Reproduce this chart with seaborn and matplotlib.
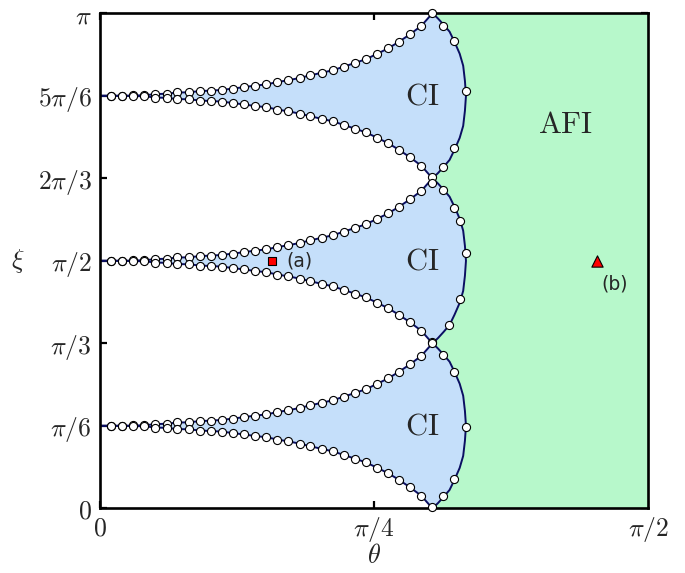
import numpy as np
import pandas as pd
import seaborn as sns
import matplotlib
matplotlib.use("Agg")
import matplotlib.pyplot as plt

# ---------------- data ----------------
# inner boundary of a CI lobe: theta samples and half-width in xi (radians)
theta_inner = [0.000, 0.032, 0.064, 0.095, 0.127, 0.159, 0.191, 0.222, 0.254, 0.286,
               0.318, 0.349, 0.381, 0.413, 0.445, 0.476, 0.508, 0.540, 0.572, 0.603,
               0.635, 0.667, 0.699, 0.730, 0.762, 0.794, 0.826, 0.857, 0.889, 0.921,
               0.953]
half_width = [0.000, 0.000, 0.000, 0.002, 0.003, 0.011, 0.013, 0.021, 0.022, 0.030,
              0.033, 0.037, 0.046, 0.055, 0.065, 0.072, 0.087, 0.099, 0.113, 0.130,
              0.146, 0.162, 0.185, 0.208, 0.232, 0.266, 0.301, 0.343, 0.391, 0.444,
              0.524]
# outer (CI / AFI) boundary arc, from lobe tip to lobe centre
arc_theta = [0.953, 0.969, 0.985, 1.002, 1.016, 1.031, 1.041, 1.046, 1.049]
arc_offset = [0.524, 0.490, 0.451, 0.407, 0.343, 0.267, 0.191, 0.095, 0.000]

lobe_centers = [np.pi / 6, np.pi / 2, 5 * np.pi / 6]

# computed points on the outer arcs (per lobe)
arc_pts_theta = {
    "top": [0.952, 0.984, 1.016, 1.048, 1.016, 0.984, 0.952],
    "mid": [0.952, 0.984, 1.016, 1.032, 1.048, 1.032, 1.000, 0.952],
    "bot": [0.952, 0.984, 1.016, 1.048, 1.016, 0.984, 0.952],
}
arc_pts_xi = {
    "top": [3.143, 3.058, 2.963, 2.650, 2.286, 2.169, 2.105],
    "mid": [2.067, 2.021, 1.905, 1.826, 1.619, 1.329, 1.164, 1.058],
    "bot": [1.048, 0.973, 0.864, 0.518, 0.186, 0.080, 0.010],
}

point_a = (0.492, np.pi / 2)
point_b = (1.426, np.pi / 2)

region_labels = ["CI", "CI", "CI", "AFI"]
region_theta = [0.924, 0.924, 0.924, 1.334]
region_xi = [lobe_centers[0], lobe_centers[1], lobe_centers[2], 2.437]

xtick_vals = [0, np.pi / 4, np.pi / 2]
xtick_labels = [r"$0$", r"$\pi/4$", r"$\pi/2$"]
ytick_vals = [0, np.pi / 6, np.pi / 3, np.pi / 2, 2 * np.pi / 3, 5 * np.pi / 6, np.pi]
ytick_labels = [r"$0$", r"$\pi/6$", r"$\pi/3$", r"$\pi/2$", r"$2\pi/3$", r"$5\pi/6$", r"$\pi$"]

# ---------------- style ----------------
sns.set_theme(style="white")
plt.rcParams["font.family"] = ["DejaVu Sans"]
plt.rcParams["mathtext.fontset"] = "cm"

BLUE = "#c5dffa"
GREEN = "#b7f8cb"
NAVY = "#0b0f62"

fig = plt.figure(figsize=(6.85, 5.73), dpi=100)
ax = fig.add_axes([0.146, 0.1129, 0.800, 0.8639])

th_in = np.array(theta_inner)
hw = np.array(half_width)
a_th = np.array(arc_theta)
a_off = np.array(arc_offset)

# arc going downward for a lobe: upper tip -> centre -> lower tip
def arc_down(c):
    th = np.concatenate([a_th, a_th[::-1][1:]])
    xi = np.concatenate([c + a_off, (c - a_off[::-1])[1:]])
    return th, xi

# green AFI region
g_th, g_xi = [], []
for c in lobe_centers[::-1]:
    th, xi = arc_down(c)
    g_th.extend(th)
    g_xi.extend(xi)
g_th += [np.pi / 2, np.pi / 2]
g_xi += [0, np.pi]
ax.fill(g_th, g_xi, color=GREEN, lw=0, zorder=1)

# blue CI lobes
for c in lobe_centers:
    th_arc, xi_arc = arc_down(c)
    poly_th = np.concatenate([th_in, th_arc[1:], th_in[::-1][1:]])
    poly_xi = np.concatenate([c + hw, xi_arc[1:], (c - hw)[::-1][1:]])
    ax.fill(poly_th, poly_xi, color=BLUE, lw=0, zorder=1)

# boundary lines
for c in lobe_centers:
    for sgn in (1, -1):
        sns.lineplot(x=th_in, y=c + sgn * hw, sort=False, estimator=None,
                     color=NAVY, lw=1.4, ax=ax, zorder=3)
    th_arc, xi_arc = arc_down(c)
    sns.lineplot(x=th_arc, y=xi_arc, sort=False, estimator=None,
                 color=NAVY, lw=1.4, ax=ax, zorder=3)

# computed points (white circles)
mk_th, mk_xi = [], []
for c in lobe_centers:
    for sgn in (1, -1):
        mk_th.extend(th_in[1:-1])
        mk_xi.extend(c + sgn * hw[1:-1])
for key in ("top", "mid", "bot"):
    mk_th.extend(arc_pts_theta[key])
    mk_xi.extend(arc_pts_xi[key])
sns.scatterplot(x=mk_th, y=mk_xi, marker="o", s=34, color="white",
                edgecolor="black", linewidth=0.8, ax=ax, zorder=6, clip_on=False)

# special points
sns.scatterplot(x=[point_a[0]], y=[point_a[1]], marker="s", s=40, color="red",
                edgecolor="black", linewidth=0.8, ax=ax, zorder=7)
sns.scatterplot(x=[point_b[0]], y=[point_b[1]], marker="^", s=66, color="red",
                edgecolor="black", linewidth=0.8, ax=ax, zorder=7)
ax.text(0.535, np.pi / 2, "(a)", fontsize=13.5, ha="left", va="center", zorder=8)
ax.text(1.475, 1.424, "(b)", fontsize=13.5, ha="center", va="center", zorder=8)

for lab, t, x in zip(region_labels, region_theta, region_xi):
    ax.text(t, x, r"$\mathrm{" + lab + "}$", fontsize=22, ha="center", va="center", zorder=8)

ax.set_xlim(0, np.pi / 2)
ax.set_ylim(0, np.pi)
ax.set_xticks(xtick_vals)
ax.set_xticklabels(xtick_labels)
ax.set_yticks(ytick_vals)
ax.set_yticklabels(ytick_labels)
ax.tick_params(direction="in", length=5, width=1.6, color="black",
               top=True, right=True, bottom=True, left=True,
               labelsize=18.5, pad=6)
ax.tick_params(axis="x", pad=5)
for sp in ax.spines.values():
    sp.set_linewidth(1.9)
    sp.set_color("black")
    sp.set_zorder(5)

ax.set_xlabel(r"$\theta$", fontsize=19)
ax.set_ylabel(r"$\xi$", fontsize=19, rotation=0)
ax.xaxis.set_label_coords(0.5, -0.097)
ax.xaxis.label.set_va("center")
ax.yaxis.set_label_coords(-0.15, 0.5)
ax.yaxis.label.set_va("center")
ax.yaxis.label.set_ha("center")

ax.set_facecolor("white")
fig.savefig("out.png", dpi=100)
